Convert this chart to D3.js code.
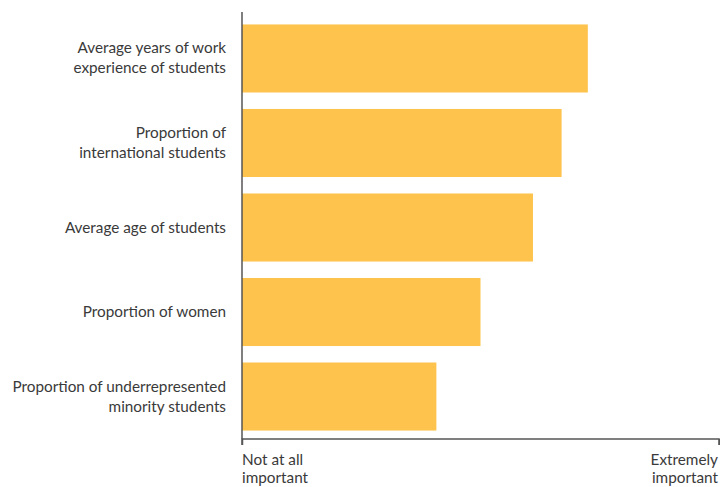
<!DOCTYPE html>
<html>
<head>
<meta charset="utf-8">
<script src="https://cdn.jsdelivr.net/npm/d3@7"></script>
<style>
  html, body { margin: 0; padding: 0; background: #fff; }
  svg { display: block; }
  text { font-family: Lato, "Open Sans", sans-serif; fill: #3a3a3a; }
</style>
</head>
<body>
<svg id="chart" width="720" height="487"></svg>
<script>
// Importance ratings on a 1 (not at all) to 5 (extremely) scale
const categories = [
  ["Average years of work", "experience of students"],
  ["Proportion of", "international students"],
  ["Average age of students"],
  ["Proportion of women"],
  ["Proportion of underrepresented", "minority students"]
];
const values = [3.90, 3.68, 3.44, 3.00, 2.63];
const scaleEnds = [1, 5];
const endLabels = [["Not at all", "important"], ["Extremely", "important"]];

const svg = d3.select("#chart");
const margin = { top: 24, left: 242, right: 1, bottom: 57 };
const width = 720 - margin.left - margin.right;
const plotBottom = 439;
const fontSize = 15.3;

const keys = categories.map((c, i) => i);

const x = d3.scaleLinear().domain(scaleEnds).range([margin.left, margin.left + width]);
const y = d3.scaleBand().domain(keys).range([margin.top - 8, plotBottom]).paddingInner(0.195).paddingOuter(0.1);

// Bars
svg.append("g").selectAll("rect")
  .data(values)
  .join("rect")
  .attr("x", x(scaleEnds[0]))
  .attr("y", (d, i) => y(i))
  .attr("width", d => x(d) - x(scaleEnds[0]))
  .attr("height", y.bandwidth())
  .attr("fill", "#fec34d");

// Category labels
const lineH = 20;
const labels = svg.append("g").selectAll("text")
  .data(categories)
  .join("text")
  .attr("text-anchor", "end")
  .attr("font-size", fontSize)
  .attr("x", margin.left - 16)
  .attr("y", (d, i) => y(i) + y.bandwidth() / 2 - (d.length - 1) * lineH / 2 + 5);
labels.selectAll("tspan")
  .data(d => d)
  .join("tspan")
  .attr("x", margin.left - 16)
  .attr("dy", (d, j) => j === 0 ? 0 : lineH)
  .text(d => d);

// Vertical baseline
svg.append("line")
  .attr("x1", x(scaleEnds[0])).attr("x2", x(scaleEnds[0]))
  .attr("y1", 12).attr("y2", plotBottom)
  .attr("stroke", "#555").attr("stroke-width", 1.5);

// Bottom axis with end ticks only
const xAxis = d3.axisBottom(x).tickValues(scaleEnds).tickSize(6).tickFormat("");
const ax = svg.append("g")
  .attr("transform", `translate(0,${plotBottom})`)
  .call(xAxis);
ax.select(".domain").attr("stroke", "#555").attr("stroke-width", 1.5).attr("d", `M${x(scaleEnds[0])},6V0H${x(scaleEnds[1])}V6`);
ax.selectAll(".tick line").attr("stroke", "#555").attr("stroke-width", 1.5);

// End labels
endLabels.forEach((lines, i) => {
  const tx = i === 0 ? x(scaleEnds[0]) : 718;
  const t = svg.append("text")
    .attr("font-size", fontSize)
    .attr("text-anchor", i === 0 ? "start" : "end")
    .attr("x", tx)
    .attr("y", 465);
  lines.forEach((s, j) => {
    t.append("tspan")
      .attr("x", tx)
      .attr("dy", j === 0 ? 0 : 18)
      .text(s);
  });
});
</script>
</body>
</html>
